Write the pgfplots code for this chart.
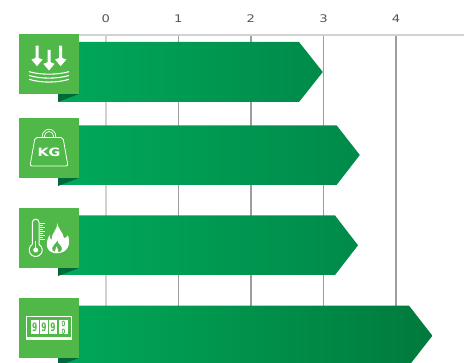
\documentclass[border=0pt]{standalone}
\usepackage{fontspec}
\setmainfont[FakeStretch=1.25]{DejaVu Sans}
\usepackage{pgfplots}
\pgfplotsset{compat=1.18}
\definecolor{barstart}{HTML}{00A95A}
\definecolor{barmid}{HTML}{008A4A}
\definecolor{barend}{HTML}{007A3C}
\definecolor{badge}{HTML}{50B848}
\definecolor{fold}{HTML}{00693A}
\definecolor{gridlight}{HTML}{D2D2D2}
\definecolor{griddark}{HTML}{9C9CA2}
\definecolor{ticktext}{HTML}{555555}

% White pictograms sit on a 60-unit green badge whose top-left corner is the origin
\newcommand{\badge}[2]{%
  \begin{scope}[shift={(#1,#2)}]
    \fill[fold] (39,60) -- (60,60) -- (39,68) -- cycle;
    \fill[badge] (0,0) rectangle (60,60);
  \end{scope}}
\newcommand{\arrowdown}[2]{%
  \begin{scope}[shift={(#1,#2)}]
    \fill[white] (-1.5,0) -- (1.5,0) -- (1.5,12.3) -- (5.6,13.8) -- (0,20.5) -- (-5.6,13.8) -- (-1.5,12.3) -- cycle;
  \end{scope}}

\begin{document}
\begin{tikzpicture}[x=1pt,y=1pt]
\path[use as bounding box] (0,0) rectangle (464,363);
\begin{axis}[
  at={(0,0)}, anchor=south west,
  scale only axis, width=464pt, height=328.3pt,
  xmin=-1.456, xmax=4.935,
  % vertical positions are measured downward from the top of the page
  ymin=34.7, ymax=363, y dir=reverse,
  axis x line=top, axis y line=none,
  x axis line style={gridlight, line width=2pt, -},
  xtick={1,2,3,4},
  extra x ticks={0},
  extra x tick style={grid style={gridlight, line width=1.7pt}},
  xmajorgrids,
  grid style={griddark, line width=1.4pt},
  major tick length=0pt,
  tick label style={font=\fontsize{10.5}{12}\selectfont, text=ticktext, yshift=9pt},
  /pgf/number format/assume math mode=true,
]
% Each bar: left edge, shoulder of the arrow head, tip at the bar's value
\addplot[draw=none, left color=barstart, right color=barmid]
  coordinates {(-0.657,42) (2.663,42) (2.99,72) (2.663,102) (-0.657,102)} --cycle;
\addplot[draw=none, left color=barstart, right color=barmid]
  coordinates {(-0.657,125.3) (3.18,125.3) (3.50,155) (3.18,185) (-0.657,185)} --cycle;
\addplot[draw=none, left color=barstart, right color=barmid]
  coordinates {(-0.657,215.5) (3.159,215.5) (3.475,245.3) (3.159,275) (-0.657,275)} --cycle;
\addplot[draw=none, left color=barstart, right color=barend]
  coordinates {(-0.657,305.7) (4.178,305.7) (4.50,335.7) (4.178,365.7) (-0.657,365.7)} --cycle;
\end{axis}

\begin{scope}[shift={(0,363)}, y=-1pt]
  % The rule along the top begins behind the first badge
  \fill[white] (0,32) rectangle (20,38);
  \badge{19}{34}
  \badge{19}{118}
  \badge{19}{208}
  \badge{19}{298}

  % Load pressing on layers
  \begin{scope}[shift={(19,34)}]
    \arrowdown{18}{11.7}
    \arrowdown{30}{16}
    \arrowdown{41.7}{11.7}
    \draw[white,line width=1.1] (10,37.7) .. controls (22,41) and (38,41) .. (50,37.7);
    \draw[white,line width=1.1] (10,41.5) .. controls (22,45) and (38,45) .. (50,41.5);
    \draw[white,line width=1.1] (10,45.3) .. controls (22,49) and (38,49) .. (50,45.3);
  \end{scope}

  % Hanging weight
  \begin{scope}[shift={(19,118)}]
    \draw[white,line width=0.7] (23.3,19.5) -- (23.3,18) arc (180:360:6.7) -- (36.7,19.5);
    \draw[white,line width=0.7] (25.5,19.5) -- (25.5,18) arc (180:360:4.5) -- (34.5,19.5);
    \draw[white,line width=0.8,rounded corners=2] (16,19.5) -- (44,19.5) -- (49,48) -- (11,48) -- cycle;
    \node[white,font=\bfseries\fontsize{11.5}{12}\selectfont,inner sep=0] at (30,34.3) {KG};
  \end{scope}

  % Thermometer and flame
  \begin{scope}[shift={(19,208)}]
    \draw[white,line width=1] (13.35,36.43) -- (13.35,14.5) arc (180:360:3.35) -- (20.05,36.43);
    \draw[white,line width=1] (13.35,36.43) arc (239:-59:6.5);
    \fill[white] (16.7,42) circle (2.5);
    \draw[white,line width=1] (16.7,40) -- (16.7,33);
    \foreach \t/\l in {15.5/4.5,17.5/3,19.5/4.5,21.5/3,23.5/4.5,25.5/3,27.5/4.5,29.5/3,31.5/4.5}
      \draw[white,line width=0.5] (21,\t) -- ++(\l,0);
    \fill[white,even odd rule]
      (38,14.7) .. controls (39,21) and (44,24) .. (45,30)
      .. controls (46.5,30) and (48,29) .. (49,27.5)
      .. controls (52,36) and (49,45) .. (38,45.3)
      .. controls (30,45.3) and (24,39) .. (30.5,27)
      .. controls (30.5,29) and (31,31) .. (32.5,32)
      .. controls (32,25) and (39,22) .. (38,14.7) -- cycle
      (38.5,32) .. controls (38,36) and (43.5,37) .. (43,41.5)
      .. controls (42,44) and (41,44.3) .. (39.5,44.3)
      .. controls (39,41) and (38,39.5) .. (37.5,38.5)
      .. controls (37,40) and (36,42) .. (36,44)
      .. controls (34,43.5) and (33,42) .. (33,40)
      .. controls (33.5,37) and (37,36) .. (38.5,32) -- cycle;
  \end{scope}

  % Four-drum mechanical counter
  \begin{scope}[shift={(19,298)}]
    \draw[white,line width=0.9] (7.5,18.5) rectangle (52.5,41.5);
    \fill[white] (7.5,39) rectangle (52.5,41.7);
    \foreach \x in {11.7,21,30,40.3} {
      \fill[white] (\x,22) rectangle ++(8.2,14);
    }
    \foreach \x in {15.8,25.1,34.1} {
      \node[badge,font=\bfseries\fontsize{8}{8}\selectfont,inner sep=0] at (\x,29) {\scalebox{0.75}[1.45]{9}};
    }
    \draw[badge,line width=0.7,rounded corners=1] (43.2,23) rectangle (45.4,28);
    \draw[badge,line width=0.7,rounded corners=1] (43.2,31) rectangle (45.4,35.5);
  \end{scope}
\end{scope}
\end{tikzpicture}
\end{document}
